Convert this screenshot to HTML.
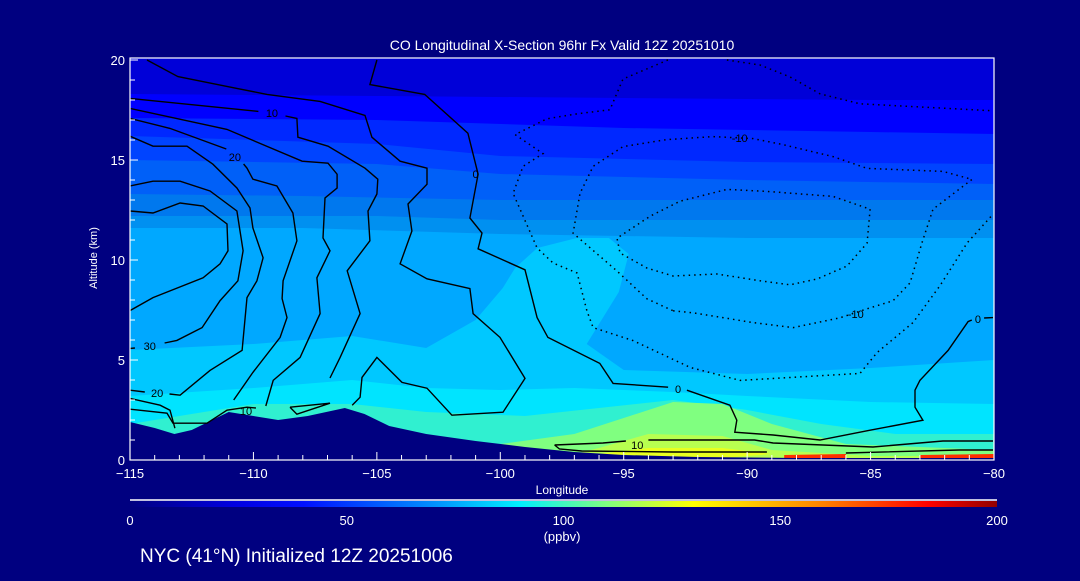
<!DOCTYPE html>
<html><head><meta charset="utf-8"><style>
body{margin:0;background:#000080;width:1080px;height:576px;overflow:hidden;font-family:"Liberation Sans",sans-serif}
svg text{fill:#fff;font-family:"Liberation Sans",sans-serif}
</style></head><body>
<svg id="c" width="1080" height="576">
<defs>
<linearGradient id="cb" x1="0" x2="1">
<stop offset="0" stop-color="#000080"/><stop offset="0.12" stop-color="#0000e0"/><stop offset="0.2" stop-color="#0010ff"/>
<stop offset="0.35" stop-color="#0090ff"/><stop offset="0.45" stop-color="#00f0ff"/><stop offset="0.55" stop-color="#80ff80"/>
<stop offset="0.65" stop-color="#ffff00"/><stop offset="0.8" stop-color="#ff8000"/><stop offset="0.92" stop-color="#ff0000"/><stop offset="1" stop-color="#900000"/>
</linearGradient>
<clipPath id="pc"><rect x="130" y="58" width="864" height="402"/></clipPath>
</defs>
<g id="plot" clip-path="url(#pc)"></g>
<g id="axes"></g>
<text x="562" y="50" font-size="14" text-anchor="middle">CO Longitudinal X-Section 96hr  Fx Valid 12Z 20251010</text>
<text x="97" y="258" font-size="11" text-anchor="middle" transform="rotate(-90 97 258)">Altitude (km)</text>
<text x="562" y="494" font-size="12" text-anchor="middle">Longitude</text>
<line x1="130" y1="500" x2="997" y2="500" stroke="#fff" stroke-width="1.5"/>
<rect x="130" y="501" width="867" height="6" fill="url(#cb)"/>
<text x="562" y="541" font-size="13" text-anchor="middle">(ppbv)</text>
<text x="140" y="562" font-size="19">NYC (41°N) Initialized 12Z 20251006</text>
</svg>
<script>
const xTicks=[-115,-110,-105,-100,-95,-90,-85,-80];
const yTicks=[0,5,10,15,20];
const cbTicks=[0,50,100,150,200];
const X=l=>130+(l+115)/35*864, Y=a=>460-a/20.1*402;
const bands=[
 ["#0000ff",[[-115,18.3],[-105,18.2],[-95,18.1],[-85,18],[-80,18]]],
 ["#0028ff",[[-115,17.1],[-105,17],[-95,16.6],[-85,16.4],[-80,16.3]]],
 ["#0044ff",[[-115,16.2],[-105,15.8],[-100,15.2],[-90,14.9],[-80,14.8]]],
 ["#0060f8",[[-115,15.0],[-105,14.8],[-100,14.3],[-90,14.0],[-80,13.8]]],
 ["#0078ee",[[-115,13.3],[-108,13.2],[-100,13.0],[-90,13.0],[-80,13.0]]],
 ["#0090f0",[[-115,12.2],[-105,12.2],[-100,12.0],[-90,12.0],[-80,12.0]]],
 ["#00a8ff",[[-115,11.6],[-108,11.6],[-100,11.3],[-90,11.1],[-80,11.1]]],
 ["#00c8ff",[[-115,5.5],[-110,5.8],[-106,6.2],[-103,5.6],[-101,7],[-99.9,8.6],[-99.4,9.6],[-98.5,10.6],[-96.9,11.1],[-95.6,11.1],[-94.8,10.3],[-95.2,8.4],[-96.5,5.8],[-95,4.5],[-90,4.3],[-85,4.6],[-80,5.0]]],
 ["#00e4ff",[[-115,3.2],[-110,3.6],[-106,4.0],[-103,3.6],[-100,3.5],[-97,3.6],[-93,3.4],[-90,3.2],[-85,2.9],[-80,2.8]]],
 ["#30f0d0",[[-115,1.8],[-110,2.8],[-106,2.8],[-103,2.4],[-99,2.2],[-96,2.6],[-93,3.0],[-90,2.5],[-87,1.8],[-84,1.3],[-80,1.3]]],
 ["#80ff80",[[-115,0],[-101,0],[-100,0.8],[-97,1.3],[-95,2.1],[-93,2.9],[-91,2.8],[-89,1.8],[-86,0.8],[-80,0.5]]],
 ["#b8ff50",[[-115,0],[-98,0],[-96,0.6],[-94,1.3],[-91,1.2],[-89,0.5],[-85,0.2],[-80,0.2]]]
];
const terrain=[[-115,1.9],[-114,1.6],[-113.2,1.3],[-112.5,1.5],[-111,2.4],[-110,2.2],[-109,2.0],[-107.8,2.2],[-106.3,2.6],[-105.5,2.3],[-104.5,1.7],[-103,1.3],[-101,0.95],[-99,0.65],[-97,0.4],[-95,0.25],[-92,0.15],[-88,0.1],[-84,0.1],[-80,0.1]];
const contours=[
 [[-115,12.45],[-114.07,12.35],[-112.97,12.85],[-112.04,12.7],[-111.07,11.8],[-111.03,10.46],[-111.35,9.81],[-112.04,9.11],[-114.07,8.12],[-115,7.47]],
 [[-115,13.7],[-114.07,13.94],[-112.97,13.94],[-111.76,13.45],[-110.67,12.45],[-110.42,10.46],[-110.63,8.96],[-111.35,7.97],[-112.08,6.62],[-113.1,5.98],[-113.6,5.85]],
 [[-114.8,5.6],[-115,5.58]],
 [[-115,16.19],[-114.07,15.69],[-112.69,15.69],[-111.64,14.79],[-110.67,13.6],[-110.14,12.6],[-110.02,11.6],[-109.61,10.11],[-109.86,8.96],[-110.26,8.12],[-110.46,5.48],[-111.76,4.48],[-112.97,3.24],[-113.4,3.3]],
 [[-114.4,3.4],[-115,3.49]],
 [[-115,17.08],[-113.38,16.58],[-111.1,15.55]],
 [[-110.4,14.8],[-110.26,14.59],[-110.02,14.04],[-109.05,13.7],[-108.4,12.35],[-108.24,10.96],[-108.8,8.96],[-108.84,8.07],[-108.64,7.12],[-108.92,6.13],[-110.02,4.38],[-110.8,3.0]],
 [[-115,17.58],[-111.07,16.53],[-108.03,14.94],[-106.98,14.84],[-106.61,14.29],[-106.61,13.6],[-107.1,13.1],[-107.18,11.1],[-106.9,10.46],[-107.43,9.11],[-107.3,7.32],[-108.11,5.13],[-109.2,3.98],[-109.5,2.7]],
 [[-115,18.08],[-109.8,17.43]],
 [[-108.7,17.2],[-108.24,17.08],[-108.2,16.14],[-106.98,15.69],[-105.48,14.59],[-104.96,14.04],[-105,13.3],[-105.36,12.45],[-105.28,10.96],[-106.2,9.46],[-105.68,7.32],[-106.49,5.13],[-106.9,4.1]],
 [[-114.31,20],[-113.06,19.17],[-110.67,18.58],[-109.45,18.28],[-107.3,17.93],[-105.48,17.23],[-105.2,16.14],[-104.06,14.94],[-102.97,14.59],[-102.97,13.79],[-103.74,12.8],[-103.58,11.45],[-104.06,9.81],[-102.97,9.06],[-101.23,8.57],[-101.1,7.32],[-100.01,6.13],[-99.0,4.08],[-99.89,2.39],[-101.96,2.24],[-102.97,3.59],[-103.98,3.88],[-105.0,5.13],[-105.6,4.13],[-105.68,3.14],[-106.0,2.74]],
 [[-105,20],[-105.28,18.77],[-103.06,18.28],[-101.31,16.34],[-100.9,14.29],[-101.23,12.1],[-100.74,11.35],[-100.9,10.56],[-99.0,9.51],[-98.51,7.12],[-98.07,6.13],[-95.97,4.83],[-95.43,3.83],[-93.2,3.64]],
 [[-92.44,3.49],[-90.7,2.74],[-90.42,1.99],[-90.5,1.39],[-88.95,1.25],[-87.05,1.0],[-85.02,1.49],[-82.88,1.99],[-83.2,2.64],[-83.2,3.49],[-83.0,3.98],[-81.86,5.48],[-81.05,6.92],[-80.9,7.0]],
 [[-80.4,7.1],[-80.04,7.12]],
 [[-115,3.08],[-113.78,2.74],[-113.38,2.49],[-113.18,1.59]],
 [[-115,2.54],[-113.5,2.34],[-113.26,1.84],[-111.88,1.84],[-111.07,2.49],[-110.26,2.64],[-109.9,2.6]],
 [[-108.52,2.64],[-106.9,2.84],[-108.24,2.29],[-108.52,2.64]],
 [[-97.8,0.75],[-95.84,0.85],[-94.91,0.95]],
 [[-94.0,1.0],[-92.38,1.0],[-89.7,1.0],[-88.95,0.85],[-84.9,0.65],[-82.07,0.95],[-80.04,0.95]],
 [[-97.8,0.75],[-97.6,0.55],[-96.7,0.45],[-93.0,0.4],[-89.2,0.4]],
 [[-86.0,0.35],[-81.4,0.5],[-80.04,0.5]]
];
const dotted=[
 [[-93.21,20],[-95.03,19.05],[-95.56,17.51],[-96.89,17.31],[-98.11,17.06],[-99.4,16.27],[-98.27,15.32],[-99.08,14.68],[-99.48,13.33],[-98.51,10.6],[-97.86,9.85],[-96.89,9.35],[-96.49,7.46],[-96.24,6.62],[-94.62,5.97],[-92.31,4.63],[-90.29,3.98],[-85.43,4.33],[-84.74,5.37],[-83.28,6.87],[-82.19,8.71],[-81.09,10.85],[-80.04,12.29]],
 [[-90.82,20],[-89.48,19.75],[-88.26,19.15],[-87.05,18.31],[-85.43,17.81],[-83.12,17.66],[-80.04,17.46]],
 [[-93.0,7.46],[-92.19,7.36],[-89.76,6.87],[-88.14,6.62],[-86.24,7.11],[-85.14,7.56],[-84.09,7.96],[-83.4,8.86],[-82.92,10.85],[-82.47,12.54],[-80.89,14.03],[-82.07,14.43],[-84.09,14.53],[-85.14,14.58],[-86.52,15.17],[-88.55,15.77],[-89.76,16.07],[-91.38,16.17],[-93.25,16.02],[-95.03,15.67],[-96.24,14.68],[-96.77,13.33],[-97.05,11.34],[-95.27,9.45],[-94.06,8.06],[-93.0,7.46]],
 [[-85.02,12.54],[-85.14,10.85],[-85.95,9.7],[-87.17,9.05],[-88.26,8.76],[-89.48,8.96],[-91.22,9.3],[-93.0,9.2],[-94.06,9.6],[-95.15,10.35],[-95.27,11.09],[-93.93,12.19],[-92.72,12.94],[-90.82,13.53],[-89.2,13.43],[-86.52,13.18],[-85.02,12.54]]
];
const labels=[["10",-109.25,17.35],["20",-110.75,15.15],["30",-114.2,5.7],["20",-113.9,3.35],["10",-110.3,2.45],["0",-101,14.3],["-10",-90.3,16.1],["-10",-85.6,7.3],["0",-92.8,3.55],["0",-80.65,7.05],["10",-94.45,0.75]];
const svgNS="http://www.w3.org/2000/svg";
const plot=document.getElementById('plot'), axes=document.getElementById('axes');
function mk(tag,attrs,parent){const e=document.createElementNS(svgNS,tag);for(const k in attrs)e.setAttribute(k,attrs[k]);parent.appendChild(e);return e;}
const pts=a=>a.map(p=>X(p[0]).toFixed(1)+","+Y(p[1]).toFixed(1)).join(" ");
let bg=mk('rect',{x:130,y:58,width:864,height:402,fill:"#0000d8"},plot);


bands.forEach(b=>{
 const p=mk('polygon',{points:pts(b[1])+" "+X(-80)+","+Y(-1)+" "+X(-115)+","+Y(-1),fill:b[0]},plot);
 
 
});
const y1=mk('polygon',{points:pts([[-96,0.3],[-94,0.6],[-91,0.6],[-89,0.3],[-91,0.1],[-95,0.15]]),fill:"#e8ff20"},plot);


[[-88.5,-86],[-83,-80]].forEach(r=>{
 const s=mk('polygon',{points:pts([[r[0],0.1],[r[1],0.1],[r[1],0.3],[r[0],0.25]]),fill:"#ff3000"},plot);
 
 
});
const ter=mk('polygon',{points:pts(terrain)+" "+X(-80)+","+Y(-1)+" "+X(-115)+","+Y(-1),fill:"#000080"},plot);


contours.forEach(c=>{
 const l=mk('polyline',{points:pts(c),fill:"none",stroke:"#000","stroke-width":1.4},plot);
 
 
});
dotted.forEach(c=>{
 const l=mk('polyline',{points:pts(c),fill:"none",stroke:"#000","stroke-width":1.5,"stroke-dasharray":"1.5 4"},plot);
 
 
});
labels.forEach(t=>{
 const e=mk('text',{x:X(t[1]),y:Y(t[2])+4,"font-size":11,"text-anchor":"middle",style:"fill:#000"},plot);
 e.textContent=t[0];
 
 
});
const fr=mk('rect',{x:130,y:58,width:864,height:402,fill:"none",stroke:"#fff","stroke-width":1.2},axes);


for(let l=-115;l<=-80;l++){mk('line',{x1:X(l),x2:X(l),y1:460,y2:(l%5===0?452:455),stroke:"#fff"},axes);}
for(let a=0;a<=20;a++){mk('line',{x1:130,x2:(a%5===0?138:135),y1:Y(a),y2:Y(a),stroke:"#fff"},axes);}
xTicks.forEach(l=>{const t=mk('text',{x:X(l),y:478,"font-size":13,"text-anchor":"middle"},axes);t.textContent=String(l).replace('-','\u2212');
 
 });
yTicks.forEach(a=>{const t=mk('text',{x:125,y:Y(a)+5,"font-size":13,"text-anchor":"end"},axes);t.textContent=a;
 
 });
cbTicks.forEach(v=>{const t=mk('text',{x:130+v/200*867,y:525,"font-size":13,"text-anchor":"middle"},axes);t.textContent=v;
 
 });
</script>
</body></html>
